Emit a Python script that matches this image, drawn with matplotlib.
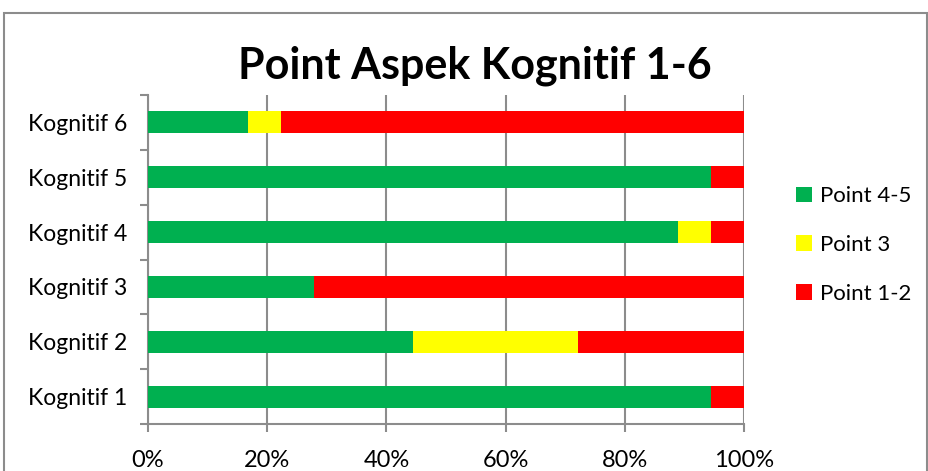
import matplotlib
matplotlib.use("Agg")
import matplotlib.pyplot as plt
from matplotlib.patches import Rectangle
import numpy as np

categories = ["Kognitif 1", "Kognitif 2", "Kognitif 3", "Kognitif 4", "Kognitif 5", "Kognitif 6"]
series_names = ["Point 4-5", "Point 3", "Point 1-2"]
point_45 = [94.4, 44.4, 27.8, 88.9, 94.4, 16.7]
point_3 = [0.0, 27.8, 0.0, 5.6, 0.0, 5.6]
point_12 = [5.6, 27.8, 72.2, 5.6, 5.6, 77.8]
colors = ["#00B050", "#FFFF00", "#FF0000"]
xticks = [0, 20, 40, 60, 80, 100]

plt.rcParams['font.family'] = ['Lato', 'DejaVu Sans']

W, H = 929, 471
fig = plt.figure(figsize=(W / 100, H / 100), dpi=100)
ax = fig.add_axes([148 / W, 1 - 424 / H, (744 - 148) / W, (424 - 95) / H])

y = np.arange(len(categories))
left = np.zeros(len(categories))
for name, vals, c in zip(series_names, [point_45, point_3, point_12], colors):
    ax.barh(y, vals, left=left, height=0.4, color=c, label=name, zorder=3)
    left = left + np.array(vals)

ax.set_xlim(0, 100)
ax.set_ylim(-0.5, len(categories) - 0.5)
ax.set_xticks(xticks)
ax.set_xticklabels([f"{v}%" for v in xticks], fontsize=17)
ax.set_yticks(y)
ax.set_yticklabels(categories, fontsize=16.5)
ax.tick_params(axis='y', length=0, pad=15)
ax.set_yticks(np.arange(-0.5, len(categories), 1), minor=True)
ax.tick_params(axis='y', which='minor', length=6, color='#8c8c8c', width=1.5)
ax.tick_params(axis='x', length=6, color='#8c8c8c', width=1.5, pad=13)
ax.grid(axis='x', color='#8c8c8c', linewidth=1.5, zorder=0)
for s in ['top', 'right']:
    ax.spines[s].set_visible(False)
for s in ['left', 'bottom']:
    ax.spines[s].set_color('#8c8c8c')
    ax.spines[s].set_linewidth(1.5)

fig.text(475 / W, 1 - 66 / H, "Point Aspek Kognitif 1-6", ha='center', va='center',
         fontsize=31, fontweight='bold')

leg = fig.legend(loc='center left', bbox_to_anchor=(776 / W, 1 - 245 / H), frameon=False,
                 fontsize=16, handlelength=0.7, handleheight=0.7, handletextpad=0.4,
                 labelspacing=1.3)

fig.patches.append(Rectangle((4 / W, -0.1), (W - 6) / W, 1.1 - 13 / H, transform=fig.transFigure,
                             fill=False, edgecolor='#8c8c8c', linewidth=1.5))

fig.savefig("out.png", dpi=100)
